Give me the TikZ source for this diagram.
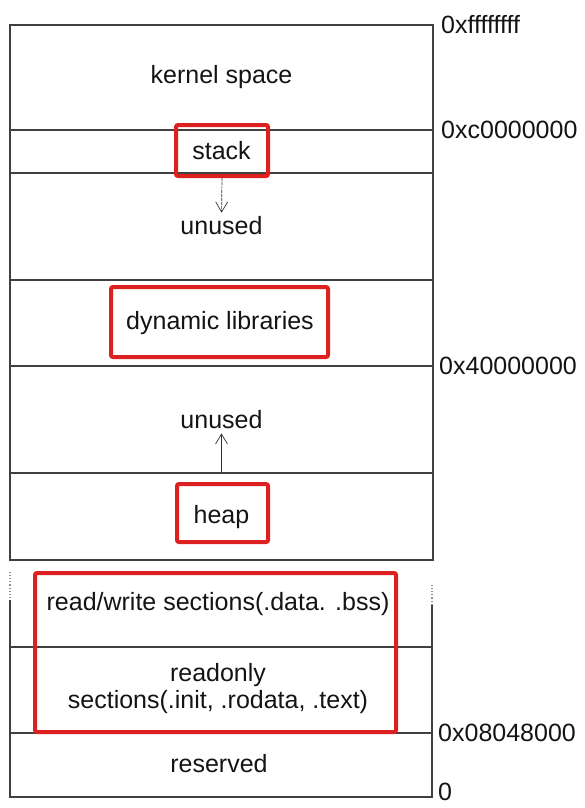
\documentclass[tikz,border=0pt]{standalone}
\usepackage{fontspec}
\setmainfont{Liberation Sans}
\usetikzlibrary{arrows.meta}
\definecolor{hl}{RGB}{221,32,32}
\definecolor{ink}{RGB}{20,20,20}
\begin{document}
\begin{tikzpicture}[x=1pt,y=-1pt,
  every node/.style={font=\fontsize{25}{29}\selectfont, text=ink},
  sect/.style={draw=black!75, line width=1.1pt},
  redbox/.style={draw=hl, line width=4pt, rounded corners=2pt, inner sep=0pt},
  txt/.style={align=center, inner sep=0pt},
  addr/.style={anchor=west, inner sep=0pt},
  growarrow/.style={-{Straight Barb[length=10pt,width=12pt]}, line width=0.7pt, draw=black!80}]
\useasboundingbox (0,0) rectangle (584,808);
% upper block
\draw[sect] (10,25) rectangle (433,560);
\draw[sect] (10,130) -- (433,130);
\draw[sect] (10,173) -- (433,173);
\draw[sect] (10,280) -- (433,280);
\draw[sect] (10,366) -- (433,366);
\draw[sect] (10,473) -- (433,473);
% lower block
\draw[sect, draw=black!45, dotted] (10,572) -- (10,600);
\draw[sect, draw=black!45, dotted] (432,585) -- (432,605);
\draw[sect] (10,600) -- (10,797) -- (432,797) -- (432,605);
\draw[sect] (10,647) -- (432,647);
\draw[sect] (10,733) -- (432,733);
% red highlight boxes
\node[redbox, minimum width=92pt, minimum height=51pt] (stackbox) at (222,150.5) {};
\node[redbox, minimum width=217pt, minimum height=70pt] (dynbox) at (219.5,322) {};
\node[redbox, minimum width=91pt, minimum height=58pt] (heapbox) at (222.5,513) {};
\node[redbox, minimum width=361pt, minimum height=159pt] (rwbox) at (215.5,652.5) {};
% section texts
\node[txt] (kernel) at (221.5,77.5) {kernel space};
\node[txt] (stack) at (221.5,151) {stack};
\node[txt] (unusedA) at (221.5,226) {unused};
\node[txt] (dynlib) at (220,323) {dynamic libraries};
\node[txt] (unusedB) at (221.5,420) {unused};
\node[txt] (heap) at (221.5,517) {heap};
\node[txt] (rw) at (218,604) {read/write sections(.data. .bss)};
\node[txt] (ro) at (218,689) {readonly\\[-2pt]sections(.init, .rodata, .text)};
\node[txt] (reserved) at (219,764) {reserved};
% addresses
\node[addr] (a1) at (441,25) {0xffffffff};
\node[addr] (a2) at (441,130) {0xc0000000};
\node[addr] (a3) at (439,366) {0x40000000};
\node[addr] (a4) at (438,733) {0x08048000};
\node[addr] (a5) at (438,792) {0};
% growth arrows
\draw[growarrow, dash pattern=on 3pt off 1pt, shorten >=4pt] (stackbox.south) -- (unusedA.north);
\coordinate (heaptop) at (221.5,473);
\draw[growarrow, shorten >=4pt] (heaptop) -- (unusedB.south);
\end{tikzpicture}
\end{document}
